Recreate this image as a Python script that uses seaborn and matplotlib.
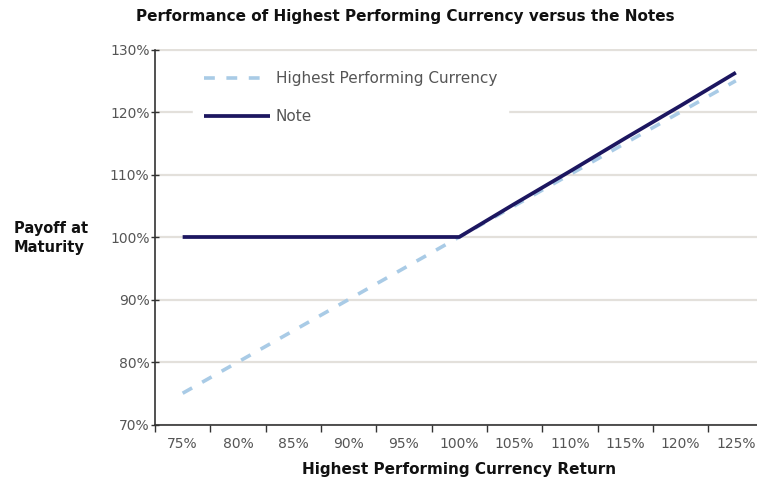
import matplotlib
matplotlib.use("Agg")
import matplotlib.pyplot as plt
from matplotlib.ticker import FixedLocator, NullFormatter
import seaborn as sns
import pandas as pd

# ---- data ----
categories = ["75%", "80%", "85%", "90%", "95%", "100%", "105%", "110%", "115%", "120%", "125%"]
currency_values = [75, 80, 85, 90, 95, 100, 105, 110, 115, 120, 125]
note_values = [100, 100, 100, 100, 100, 100, 105.3, 110.5, 115.8, 121.0, 126.3]
y_ticks = [70, 80, 90, 100, 110, 120, 130]
y_tick_labels = ["70%", "80%", "90%", "100%", "110%", "120%", "130%"]

title = "Performance of Highest Performing Currency versus the Notes"
x_label = "Highest Performing Currency Return"
y_label = "Payoff at\nMaturity"
series_names = ["Highest Performing Currency", "Note"]

sns.set_theme(style="white")
plt.rcParams["font.family"] = ["DejaVu Sans"]

pos = list(range(len(categories)))
df = pd.DataFrame({"pos": pos * 2,
                   "value": currency_values + note_values,
                   "series": [series_names[0]] * len(pos) + [series_names[1]] * len(pos)})

fig = plt.figure(figsize=(7.57, 4.86), dpi=100)
ax = fig.add_axes([155 / 757, 1 - 424.5 / 486, 608.5 / 757, (424.5 - 49.5) / 486])

cur_color = "#a9cbe6"
note_color = "#1c1660"

sns.lineplot(data=df[df.series == series_names[0]], x="pos", y="value", ax=ax,
             color=cur_color, linewidth=2.6, legend=False)
line_c = ax.lines[-1]
line_c.set_dashes([3.0, 3.2])
sns.lineplot(data=df[df.series == series_names[1]], x="pos", y="value", ax=ax,
             color=note_color, linewidth=2.7, legend=False)
line_n = ax.lines[-1]
line_n.set_solid_capstyle("butt")

ax.set_xlim(-0.5, len(categories) - 0.5)
ax.set_ylim(70, 130)

ax.set_yticks(y_ticks)
ax.set_yticklabels(y_tick_labels)
ax.set_xticks(pos)
ax.set_xticklabels(categories)
ax.xaxis.set_minor_locator(FixedLocator([p - 0.5 for p in pos] + [len(pos) - 0.5]))
ax.xaxis.set_minor_formatter(NullFormatter())
ax.tick_params(axis="x", which="major", length=0, pad=9, labelsize=10, labelcolor="#555555")
ax.tick_params(axis="x", which="minor", length=5, width=1, color="#333333", direction="out", bottom=True)
ax.tick_params(axis="y", which="major", length=6, width=1, color="#333333", direction="inout",
               left=True, pad=1, labelsize=10, labelcolor="#555555")

ax.yaxis.grid(True, color="#e3e0db", linewidth=1.6)
ax.xaxis.grid(False)
ax.set_axisbelow(True)

for s in ["top", "right"]:
    ax.spines[s].set_visible(False)
for s in ["left", "bottom"]:
    ax.spines[s].set_color("#333333")
    ax.spines[s].set_linewidth(1.2)

ax.set_xlabel(x_label, fontsize=11, fontweight="bold", color="#111111", labelpad=8)
ax.set_ylabel("")
fig.text(14 / 757, 1 - 238 / 486, y_label, fontsize=10.5, fontweight="bold",
         color="#111111", ha="left", va="center", linespacing=1.35)
fig.text(405 / 757, 1 - 16 / 486, title, fontsize=11, fontweight="bold",
         color="#111111", ha="center", va="center")

leg = ax.legend([line_c, line_n], series_names, loc="upper left",
                bbox_to_anchor=(38 / 608.5, 0.972), frameon=True, fontsize=11,
                handlelength=4.3, handletextpad=0.35, labelspacing=1.5,
                borderpad=0.75, borderaxespad=0)
leg.get_frame().set_facecolor("white")
leg.get_frame().set_edgecolor("white")
leg.get_frame().set_alpha(1)
leg.get_frame().set_boxstyle("square", pad=0)
for t in leg.get_texts():
    t.set_color("#555555")

fig.savefig("out.png", dpi=100)
